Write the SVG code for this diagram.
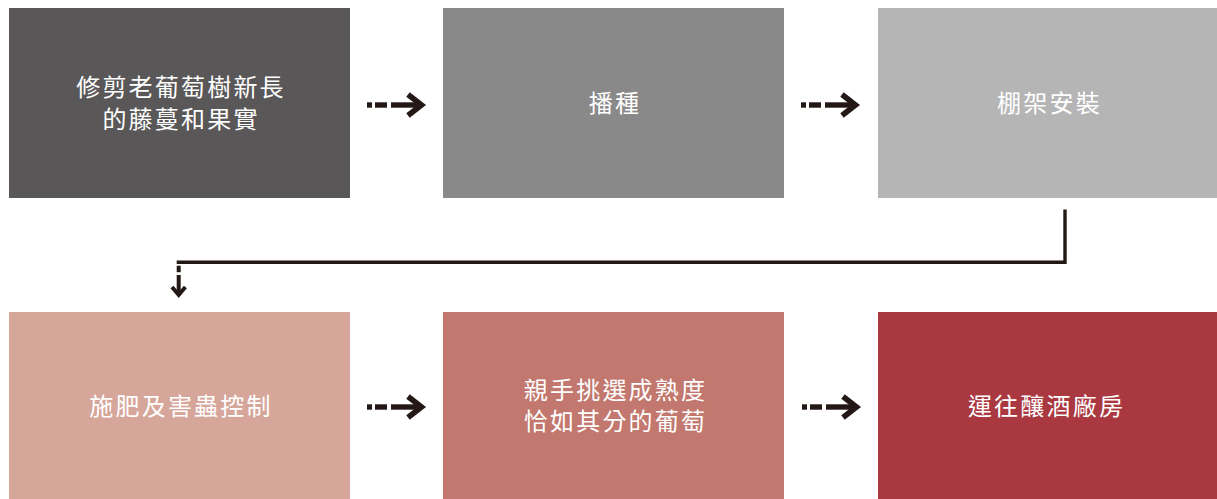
<svg xmlns="http://www.w3.org/2000/svg" xmlns:xlink="http://www.w3.org/1999/xlink" width="1217" height="499" viewBox="0 0 1217 499">
<style>
.lbl{font-family:"Noto Sans CJK TC","Noto Sans CJK SC",sans-serif;font-size:24px;font-weight:400;fill:#ffffff;text-anchor:middle;letter-spacing:2.2px}
.ink{fill:#231815}
.stk{stroke:#231815;fill:none}
</style>
<defs>
<g id="arr">
<rect class="ink" x="0" y="-2.7" width="5" height="5.4"/>
<rect class="ink" x="8" y="-2.7" width="12" height="5.4"/>
<line class="stk" x1="24" y1="0" x2="54" y2="0" stroke-width="5.4"/>
<polyline class="stk" points="41,-10.5 54.5,0 41,10.5" stroke-width="5.6" stroke-miterlimit="10"/>
</g>
</defs>
<rect width="1217" height="499" fill="#ffffff"/>
<g id="n1">
<rect x="9" y="8" width="341" height="190" fill="#595757"/>
<text class="lbl" x="181" y="96">修剪老葡萄樹新長</text>
<text class="lbl" x="181" y="128">的藤蔓和果實</text>
</g>
<g id="n2">
<rect x="443" y="8" width="341" height="190" fill="#898989"/>
<text class="lbl" x="615" y="111.5">播種</text>
</g>
<g id="n3">
<rect x="878" y="8" width="339" height="190" fill="#b5b5b6"/>
<text class="lbl" x="1049.5" y="111.5">棚架安裝</text>
</g>
<g id="n4">
<rect x="9" y="312" width="341" height="187" fill="#d6a69b"/>
<text class="lbl" x="181" y="415">施肥及害蟲控制</text>
</g>
<g id="n5">
<rect x="443" y="312" width="341" height="187" fill="#c2786e"/>
<text class="lbl" x="615.5" y="398.5">親手挑選成熟度</text>
<text class="lbl" x="615.5" y="430">恰如其分的葡萄</text>
</g>
<g id="n6">
<rect x="878" y="312" width="339" height="187" fill="#a93840"/>
<text class="lbl" x="1046.5" y="415">運往釀酒廠房</text>
</g>
<g id="connectors">
<use xlink:href="#arr" x="367" y="105"/>
<use xlink:href="#arr" x="801" y="105"/>
<use xlink:href="#arr" x="367" y="407"/>
<use xlink:href="#arr" x="802" y="407"/>
<polyline class="stk" points="1065,209.5 1065,262.3 176.7,262.3" stroke-width="3.4"/>
<rect class="ink" x="176.7" y="265.7" width="4" height="6.5"/>
<line class="stk" x1="178.7" y1="275" x2="178.7" y2="295" stroke-width="4"/>
<polyline class="stk" points="172,287 178.7,295 185.4,287" stroke-width="4" stroke-miterlimit="10"/>
</g>
</svg>
